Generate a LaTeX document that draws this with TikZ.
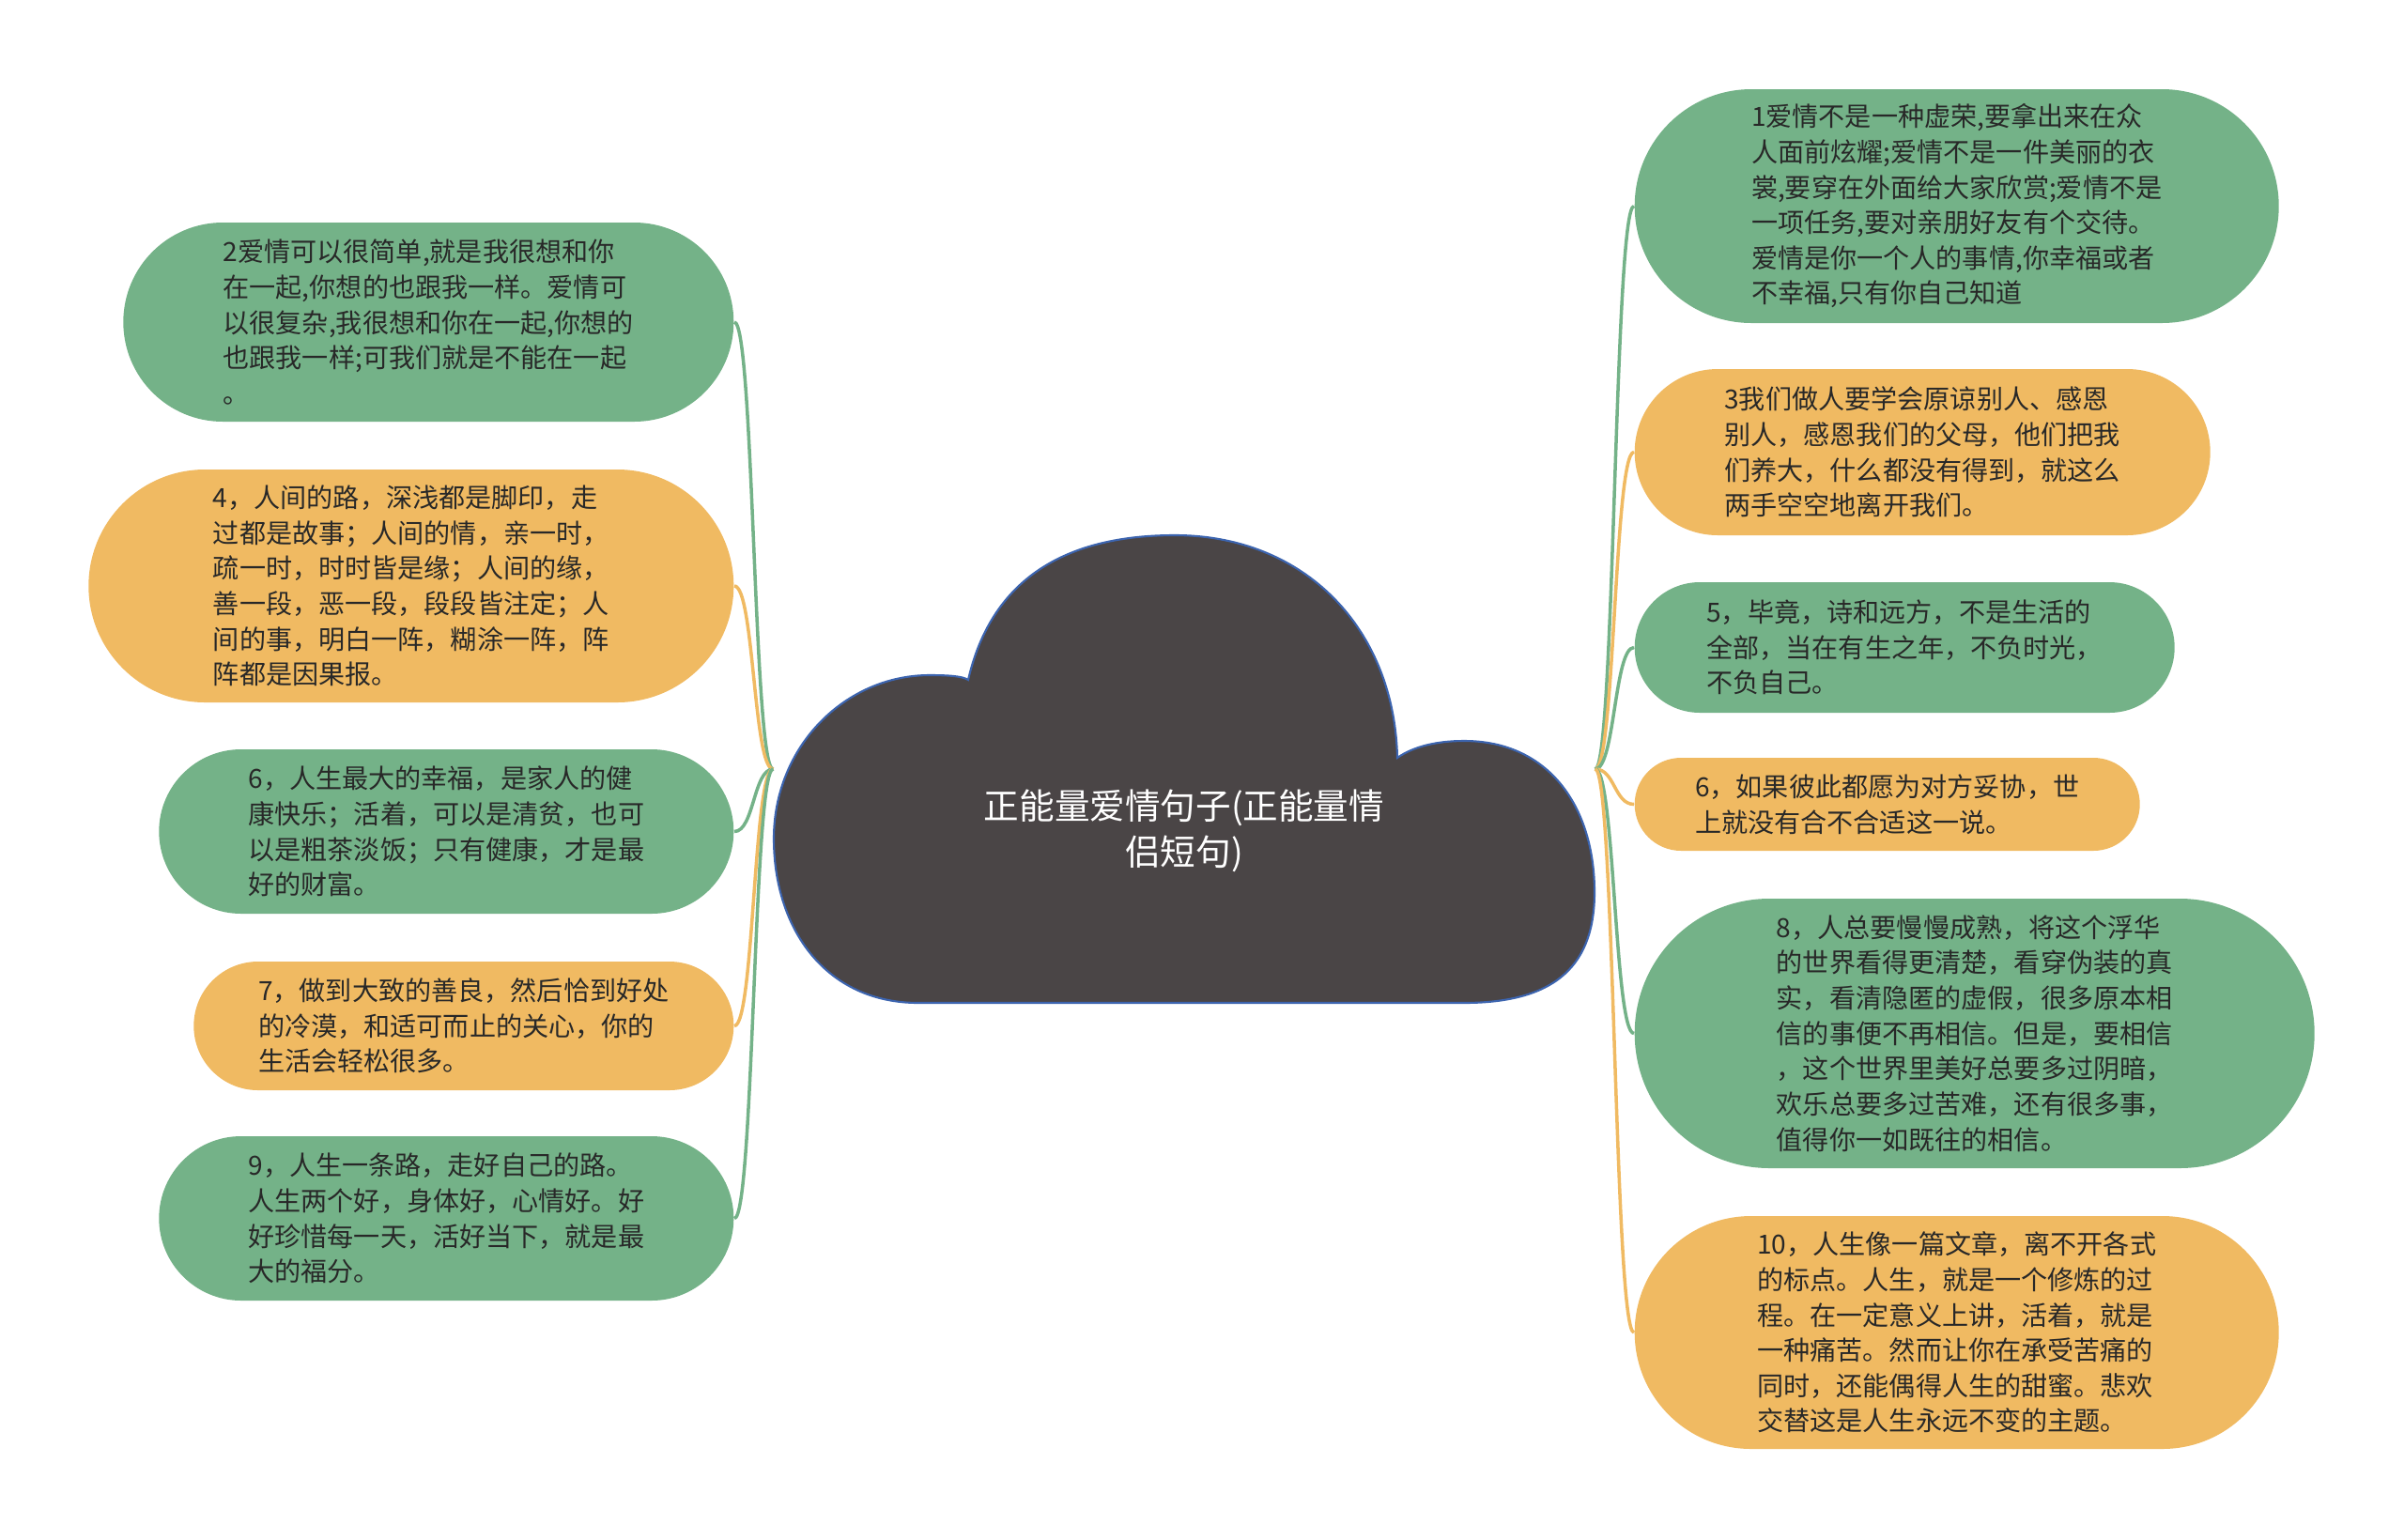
\documentclass[tikz,border=0pt]{standalone}
\usepackage{fontspec}
\newfontfamily\cjk{Noto Sans CJK SC}
\usetikzlibrary{shapes.misc}
\definecolor{leafgreen}{RGB}{116,178,136}
\definecolor{leaforange}{RGB}{240,186,98}
\definecolor{cloudgray}{RGB}{74,69,70}
\definecolor{cloudblue}{RGB}{60,100,175}
\definecolor{inktext}{RGB}{40,40,40}

\begin{document}
\begin{tikzpicture}[
  leaf/.style={rounded rectangle,inner sep=0pt,align=left,text=inktext,
        font=\cjk\fontsize{8pt}{10.7pt}\selectfont},
  greenleaf/.style={leaf,fill=leafgreen},
  orangeleaf/.style={leaf,fill=leaforange},
  topic/.style={align=center,text=white,font=\cjk\fontsize{10.7pt}{14pt}\selectfont},
  greenlink/.style={leafgreen,line width=1pt},
  orangelink/.style={leaforange,line width=1pt}
]
\useasboundingbox (0,0) rectangle (25.6,-16.39);
% cloud in the middle
\draw[fill=cloudgray,draw=cloudblue,line width=0.6pt]
  (9.78,-10.68) .. controls (8.8,-10.68) and (8.24,-9.9) .. (8.24,-8.93)
  .. controls (8.24,-7.95) and (9.0,-7.19) .. (9.9,-7.19)
  .. controls (10.1,-7.19) and (10.25,-7.2) .. (10.31,-7.24)
  .. controls (10.55,-6.2) and (11.3,-5.70) .. (12.51,-5.70)
  .. controls (13.9,-5.70) and (14.85,-6.7) .. (14.88,-8.07)
  .. controls (15.05,-7.95) and (15.3,-7.89) .. (15.59,-7.89)
  .. controls (16.5,-7.89) and (16.98,-8.6) .. (16.98,-9.5)
  .. controls (16.98,-10.25) and (16.6,-10.68) .. (15.59,-10.68)
  -- cycle;
\node[minimum width=8.74cm,minimum height=4.98cm,inner sep=0pt] (root) at (12.61,-8.19) {};
\node[topic] (title) at (12.61,-8.85) {正能量爱情句子(正能量情\\侣短句)};
% left side
\node[greenleaf,anchor=east,minimum width=6.50cm,minimum height=2.12cm] (l1) at (7.82,-3.43)
  {2爱情可以很简单,就是我很想和你\\在一起,你想的也跟我一样。爱情可\\以很复杂,我很想和你在一起,你想的\\也跟我一样;可我们就是不能在一起\\。};
\node[orangeleaf,anchor=east,minimum width=6.87cm,minimum height=2.48cm] (l2) at (7.82,-6.24)
  {4，人间的路，深浅都是脚印，走\\过都是故事；人间的情，亲一时，\\疏一时，时时皆是缘；人间的缘，\\善一段，恶一段，段段皆注定；人\\间的事，明白一阵，糊涂一阵，阵\\阵都是因果报。};
\node[greenleaf,anchor=east,minimum width=6.12cm,minimum height=1.75cm] (l3) at (7.82,-8.855)
  {6，人生最大的幸福，是家人的健\\康快乐；活着，可以是清贫，也可\\以是粗茶淡饭；只有健康，才是最\\好的财富。};
\node[orangeleaf,anchor=east,minimum width=5.75cm,minimum height=1.37cm] (l4) at (7.82,-10.925)
  {7，做到大致的善良，然后恰到好处\\的冷漠，和适可而止的关心，你的\\生活会轻松很多。};
\node[greenleaf,anchor=east,minimum width=6.12cm,minimum height=1.75cm] (l5) at (7.82,-12.975)
  {9，人生一条路，走好自己的路。\\人生两个好，身体好，心情好。好\\好珍惜每一天，活好当下，就是最\\大的福分。};
% right side
\node[greenleaf,anchor=west,minimum width=6.86cm,minimum height=2.49cm] (r1) at (17.40,-2.195)
  {1爱情不是一种虚荣,要拿出来在众\\人面前炫耀;爱情不是一件美丽的衣\\裳,要穿在外面给大家欣赏;爱情不是\\一项任务,要对亲朋好友有个交待。\\爱情是你一个人的事情,你幸福或者\\不幸福,只有你自己知道};
\node[orangeleaf,anchor=west,minimum width=6.13cm,minimum height=1.77cm] (r2) at (17.40,-4.815)
  {3我们做人要学会原谅别人、感恩\\别人，感恩我们的父母，他们把我\\们养大，什么都没有得到，就这么\\两手空空地离开我们。};
\node[greenleaf,anchor=west,minimum width=5.75cm,minimum height=1.39cm] (r3) at (17.40,-6.895)
  {5，毕竟，诗和远方，不是生活的\\全部，当在有生之年，不负时光，\\不负自己。};
\node[orangeleaf,anchor=west,minimum width=5.38cm,minimum height=0.99cm] (r4) at (17.40,-8.565)
  {6，如果彼此都愿为对方妥协，世\\上就没有合不合适这一说。};
\node[greenleaf,anchor=west,minimum width=7.24cm,minimum height=2.87cm] (r5) at (17.40,-11.005)
  {8，人总要慢慢成熟，将这个浮华\\的世界看得更清楚，看穿伪装的真\\实，看清隐匿的虚假，很多原本相\\信的事便不再相信。但是，要相信\\，这个世界里美好总要多过阴暗，\\欢乐总要多过苦难，还有很多事，\\值得你一如既往的相信。};
\node[orangeleaf,anchor=west,minimum width=6.86cm,minimum height=2.48cm] (r6) at (17.40,-14.19)
  {10，人生像一篇文章，离不开各式\\的标点。人生，就是一个修炼的过\\程。在一定意义上讲，活着，就是\\一种痛苦。然而让你在承受苦痛的\\同时，还能偶得人生的甜蜜。悲欢\\交替这是人生永远不变的主题。};
% links
\draw[greenlink] (root.west) .. controls +(-0.21,0) and +(0.21,0) .. (l1.east);
\draw[orangelink] (root.west) .. controls +(-0.21,0) and +(0.21,0) .. (l2.east);
\draw[greenlink] (root.west) .. controls +(-0.21,0) and +(0.21,0) .. (l3.east);
\draw[orangelink] (root.west) .. controls +(-0.21,0) and +(0.21,0) .. (l4.east);
\draw[greenlink] (root.west) .. controls +(-0.21,0) and +(0.21,0) .. (l5.east);
\draw[greenlink] (root.east) .. controls +(0.21,0) and +(-0.21,0) .. (r1.west);
\draw[orangelink] (root.east) .. controls +(0.21,0) and +(-0.21,0) .. (r2.west);
\draw[greenlink] (root.east) .. controls +(0.21,0) and +(-0.21,0) .. (r3.west);
\draw[orangelink] (root.east) .. controls +(0.21,0) and +(-0.21,0) .. (r4.west);
\draw[greenlink] (root.east) .. controls +(0.21,0) and +(-0.21,0) .. (r5.west);
\draw[orangelink] (root.east) .. controls +(0.21,0) and +(-0.21,0) .. (r6.west);
\end{tikzpicture}
\end{document}
